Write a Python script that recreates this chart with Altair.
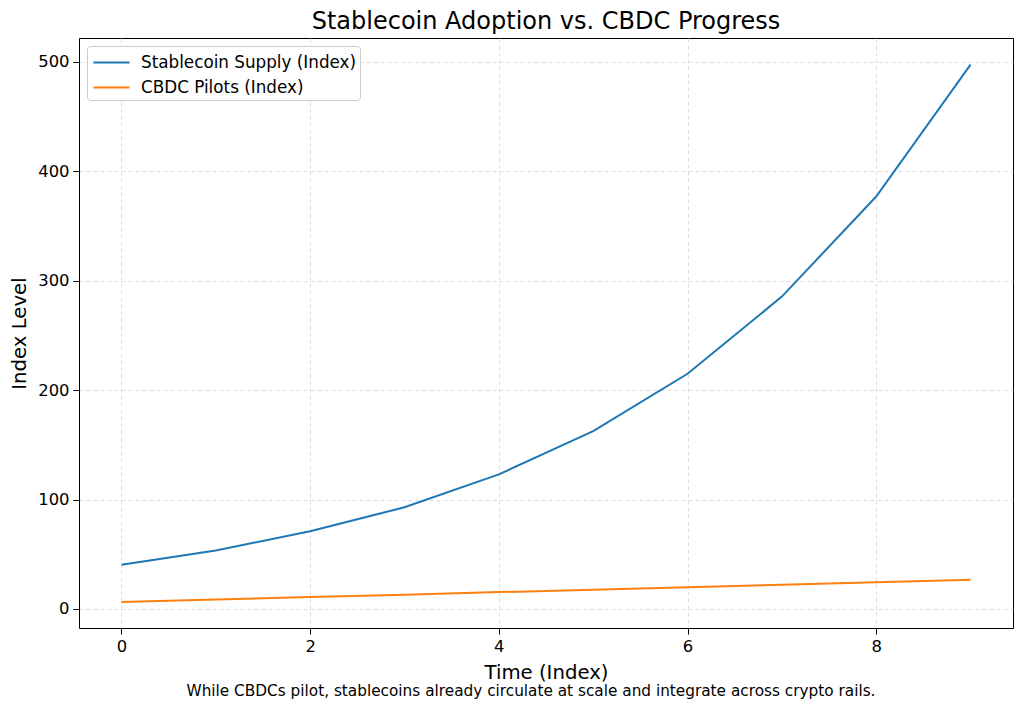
import altair as alt
import pandas as pd

time_idx = [0, 1, 2, 3, 4, 5, 6, 7, 8, 9]
stablecoin = [40.5, 53.5, 71.0, 93.0, 123.0, 162.5, 215.0, 285.5, 377.0, 497.5]
cbdc = [6.4, 8.6, 10.9, 13.1, 15.4, 17.6, 19.9, 22.1, 24.4, 26.6]
series_names = ["Stablecoin Supply (Index)", "CBDC Pilots (Index)"]
series_colors = ["#1f77b4", "#ff7f0e"]
caption = "While CBDCs pilot, stablecoins already circulate at scale and integrate across crypto rails."

rows = []
for t, v in zip(time_idx, stablecoin):
    rows.append({"t": t, "v": v, "s": series_names[0]})
for t, v in zip(time_idx, cbdc):
    rows.append({"t": t, "v": v, "s": series_names[1]})
df = pd.DataFrame(rows)

FONT = "DejaVu Sans"

lines = alt.Chart(df).mark_line(strokeWidth=2, clip=True).encode(
    x=alt.X("t:Q", title="Time (Index)",
            scale=alt.Scale(domain=[-0.45, 9.45], nice=False, zero=False),
            axis=alt.Axis(values=[0, 2, 4, 6, 8], format="d")),
    y=alt.Y("v:Q", title="Index Level",
            scale=alt.Scale(domain=[-17.4, 521.9], nice=False, zero=False),
            axis=alt.Axis(values=[0, 100, 200, 300, 400, 500])),
    color=alt.Color("s:N", scale=alt.Scale(domain=series_names, range=series_colors),
                    legend=alt.Legend(title=None, orient="none", legendX=8, legendY=8,
                                      symbolType="M-1.5,0H1.5", symbolStrokeWidth=2,
                                      symbolSize=580, symbolOffset=8,
                                      labelFontSize=16.8, labelFont=FONT, labelColor="#000",
                                      labelOffset=16,
                                      fillColor="white", strokeColor="#cccccc", cornerRadius=3,
                                      padding=3, rowPadding=2, labelLimit=400)),
    order=alt.Order("t:Q"),
)

cap = alt.Chart(pd.DataFrame({"c": [caption]})).mark_text(
    fontSize=15.3, font=FONT, color="#000", align="center", baseline="middle"
).encode(text="c:N", x=alt.value(452), y=alt.value(653))

chart = alt.layer(lines, cap).properties(
    width=934, height=590,
    title=alt.TitleParams("Stablecoin Adoption vs. CBDC Progress", fontSize=24, font=FONT,
                          fontWeight="normal", color="#000", offset=4),
    autosize=alt.AutoSizeParams(type="none"),
    padding={"left": 71, "top": 30, "right": 3, "bottom": 73},
).configure_view(stroke="#000", strokeWidth=1).configure_axis(
    labelFont=FONT, titleFont=FONT, labelFontSize=16.4, titleFontSize=19.7,
    labelColor="#000", titleColor="#000", titleFontWeight="normal",
    grid=True, gridColor="#d6d6d6", gridDash=[4, 3], gridWidth=0.8,
    domain=False, tickColor="#000", tickSize=6, labelPadding=4,
).configure_axisX(titlePadding=8).configure_axisY(titlePadding=8)

chart.save("out.html", embed_options={"renderer": "svg", "actions": False})
